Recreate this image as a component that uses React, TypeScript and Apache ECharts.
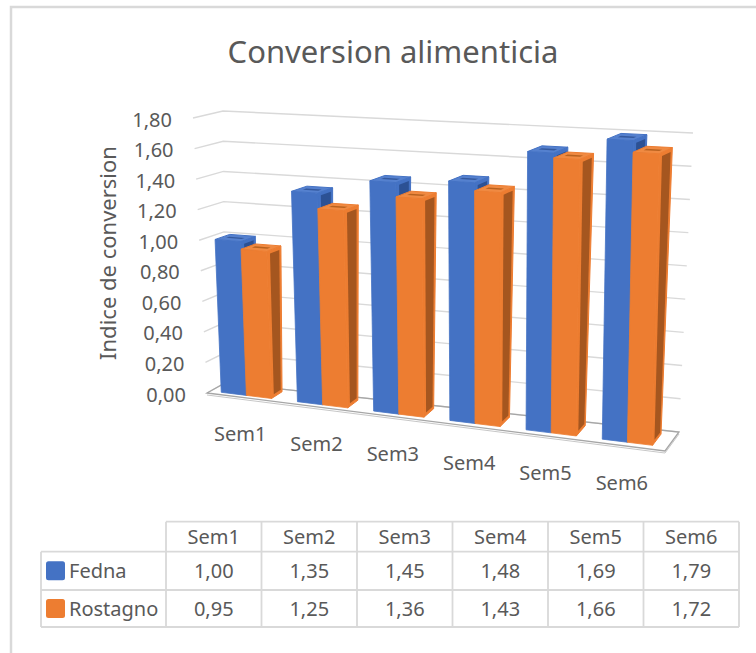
import React, { useEffect, useRef } from 'react';
import * as echarts from 'echarts';

// ---------- data ----------
const categories = ['Sem1', 'Sem2', 'Sem3', 'Sem4', 'Sem5', 'Sem6'];
const seriesNames = ['Fedna', 'Rostagno'];
const fedna = [1.0, 1.35, 1.45, 1.48, 1.69, 1.79];
const rostagno = [0.95, 1.25, 1.36, 1.43, 1.66, 1.72];
const yTicks = [0, 0.2, 0.4, 0.6, 0.8, 1.0, 1.2, 1.4, 1.6, 1.8];
const yMin = 0;
const yMax = 1.8;
const yInterval = 0.2;
const titleText = 'Conversion alimenticia';
const yAxisTitle = 'Indice de conversion';

// ---------- style ----------
const FONT = '"Noto Sans", "Open Sans", sans-serif';
const TEXT = '#595959';
const GRID = '#d9d9d9';
const COLORS = [
  { front: '#4472C4', side: '#2C5194', top: '#5581CF', inner: '#34599E' },
  { front: '#ED7D31', side: '#A5561F', top: '#F08A42', inner: '#B8621F' },
];

const fmt = (v: number) => v.toFixed(2).replace('.', ',');

// perspective frame: screen corners of the plot box (front plane Z=0, back plane Z=1)
const F00 = [207, 393], F01 = [193, 118], F10 = [665, 451], F11 = [671, 143];
const B00 = [225, 383], B01 = [223, 111], B10 = [679, 432], B11 = [693, 133];

const lerp = (a: number[], b: number[], t: number) => [a[0] + (b[0] - a[0]) * t, a[1] + (b[1] - a[1]) * t];
function proj(X: number, Y: number, Z: number) {
  const c00 = lerp(F00, B00, Z), c01 = lerp(F01, B01, Z), c10 = lerp(F10, B10, Z), c11 = lerp(F11, B11, Z);
  const bot = lerp(c00, c10, X), top = lerp(c01, c11, X);
  return lerp(bot, top, Y);
}

function norm(cs: any, api: any, cat: number, val: number) {
  const p = api.coord([cat, val]);
  return [(p[0] - cs.x) / cs.width, (cs.y + cs.height - p[1]) / cs.height];
}

const BAR_Z0 = 0.2, BAR_Z1 = 0.8;
const CLUSTER_START = 0.14, BAR_FRAC = 0.33;

function makeBarRender(s: number) {
  const c = COLORS[s];
  return (params: any, api: any) => {
    const cs = params.coordSys;
    const i = api.value(0), v = api.value(1);
    const [Xc, Yv] = norm(cs, api, i, v);
    const [, Y0] = norm(cs, api, i, 0);
    const band = api.size([1, 0])[0] / cs.width;
    const xa = Xc - band / 2 + band * (CLUSTER_START + BAR_FRAC * s);
    const xb = xa + band * BAR_FRAC;
    const z0 = BAR_Z0, z1 = BAR_Z1;
    const fb0 = proj(xa, Y0, z0), fb1 = proj(xb, Y0, z0), ft0 = proj(xa, Yv, z0), ft1 = proj(xb, Yv, z0);
    const bb1 = proj(xb, Y0, z1), bt0 = proj(xa, Yv, z1), bt1 = proj(xb, Yv, z1);
    const im = 0.2;
    const it = [
      proj(xa + (xb - xa) * im, Yv, z0 + (z1 - z0) * 0.4),
      proj(xb - (xb - xa) * im, Yv, z0 + (z1 - z0) * 0.4),
      proj(xb - (xb - xa) * im, Yv, z0 + (z1 - z0) * 0.62),
      proj(xa + (xb - xa) * im, Yv, z0 + (z1 - z0) * 0.62),
    ];
    // inner dark part of the side face (leaves a lighter bevel rim)
    const sideInner = [
      proj(xb, Y0 + 0.01, z0 + (z1 - z0) * 0.22),
      proj(xb, Y0 + 0.01, z1 - (z1 - z0) * 0.12),
      proj(xb, Yv - 0.012, z1 - (z1 - z0) * 0.12),
      proj(xb, Yv - 0.012, z0 + (z1 - z0) * 0.22),
    ];
    return {
      type: 'group',
      children: [
        { type: 'polygon', shape: { points: [fb1, bb1, bt1, ft1] }, style: { fill: c.front, stroke: c.front, lineWidth: 1 } },
        { type: 'polygon', shape: { points: sideInner }, style: { fill: c.side } },
        { type: 'polygon', shape: { points: [fb0, fb1, ft1, ft0] }, style: { fill: c.front, stroke: c.front, lineWidth: 0.8 } },
        { type: 'polygon', shape: { points: [ft0, ft1, bt1, bt0] }, style: { fill: c.top, stroke: c.front, lineWidth: 1 } },
        { type: 'polygon', shape: { points: it }, style: { fill: c.inner } },
      ],
    };
  };
}

const gridRender = (params: any, api: any) => {
  const cs = params.coordSys;
  const v = api.value(1);
  const [, Y] = norm(cs, api, 0, v);
  const a = proj(0, Y, 0), b = proj(0, Y, 1), c = proj(1, Y, 1);
  return {
    type: 'group',
    children: [
      { type: 'polyline', shape: { points: [a, b, c] }, style: { stroke: GRID, lineWidth: 1.4, fill: null } },
      {
        type: 'text', x: a[0] - 21, y: a[1] + 1,
        style: { text: fmt(v), fill: TEXT, fontSize: 20, fontFamily: FONT, align: 'right', verticalAlign: 'middle' },
      },
    ],
  };
};

const floorRender = (params: any, api: any) => {
  const cs = params.coordSys;
  const [, Y] = norm(cs, api, 0, 0);
  const p = [proj(0, Y, 0), proj(1, Y, 0), proj(1, Y, 1), proj(0, Y, 1)];
  const q = p.map((pt, k) => (k < 3 ? [pt[0], pt[1] + 2] : pt));
  return {
    type: 'group',
    children: [
      { type: 'polyline', shape: { points: [q[0], q[1], q[2]] }, style: { stroke: '#c8c8c8', lineWidth: 1, fill: null } },
      { type: 'polygon', shape: { points: p }, style: { fill: null, stroke: '#a6a6a6', lineWidth: 1.3 } },
    ],
  };
};

const catLabelRender = (params: any, api: any) => {
  const cs = params.coordSys;
  const i = api.value(0);
  const [Xc, Y0] = norm(cs, api, i, 0);
  const p = proj(Xc, Y0, 0);
  return {
    type: 'text', x: p[0] - 5, y: p[1] + 36,
    style: { text: categories[i], fill: TEXT, fontSize: 20, fontFamily: FONT, align: 'center', verticalAlign: 'middle' },
  };
};

// ---------- table (built from data arrays) ----------
function buildTable() {
  const els: any[] = [];
  const left = 41, labelRight = 166, colW = 95.5;
  const right = labelRight + colW * categories.length;
  const rows = [521.7, 551.7, 590, 627];
  const ln = (x1: number, y1: number, x2: number, y2: number) =>
    els.push({ type: 'line', shape: { x1, y1, x2, y2 }, style: { stroke: GRID, lineWidth: 1.8 } });
  ln(labelRight, rows[0], right, rows[0]);
  for (let r = 1; r < rows.length; r++) ln(left, rows[r], right, rows[r]);
  ln(left, rows[1], left, rows[3]);
  for (let k = 0; k <= categories.length; k++) ln(labelRight + colW * k, rows[0], labelRight + colW * k, rows[3]);
  const txt = (text: string, x: number, y: number, align: string) =>
    els.push({ type: 'text', x, y, style: { text, fill: TEXT, fontSize: 20, fontFamily: FONT, align, verticalAlign: 'middle' } });
  categories.forEach((c, k) => txt(c, labelRight + colW * (k + 0.5), (rows[0] + rows[1]) / 2, 'center'));
  const vals = [fedna, rostagno];
  seriesNames.forEach((n, s) => {
    const cy = (rows[s + 1] + rows[s + 2]) / 2;
    els.push({ type: 'rect', shape: { x: 46, y: cy - 9.5, width: 19, height: 19, r: 2.5 }, style: { fill: COLORS[s].front } });
    txt(n, 69, cy, 'left');
    vals[s].forEach((v, k) => txt(fmt(v), labelRight + colW * (k + 0.5), cy, 'center'));
  });
  return els;
}

export default function App() {
  const ref = useRef<HTMLDivElement>(null);
  useEffect(() => {
    if (!ref.current) return;
    const chart = echarts.init(ref.current, undefined, { renderer: 'svg' });
    chart.setOption({
      animation: false,
      backgroundColor: '#ffffff',
      title: {
        text: titleText, left: 388, top: 30, textAlign: 'center',
        textStyle: { fontSize: 31, fontWeight: 'normal', fontFamily: FONT, color: TEXT },
      },
      grid: { left: 207, top: 117, width: 458, height: 276 },
      xAxis: { type: 'category', data: categories, show: false },
      yAxis: { type: 'value', min: yMin, max: yMax, interval: yInterval, show: false },
      series: [
        { type: 'custom', name: 'grid', z: 1, clip: false, silent: true, renderItem: gridRender, data: yTicks.map((t) => [0, t]) },
        { type: 'custom', name: 'floor', z: 2, clip: false, silent: true, renderItem: floorRender, data: [[0, 0]] },
        { type: 'custom', name: seriesNames[0], z: 3, clip: false, renderItem: makeBarRender(0), data: fedna.map((v, i) => [i, v]) },
        { type: 'custom', name: seriesNames[1], z: 3, clip: false, renderItem: makeBarRender(1), data: rostagno.map((v, i) => [i, v]) },
        { type: 'custom', name: 'labels', z: 4, clip: false, silent: true, renderItem: catLabelRender, data: categories.map((_, i) => [i, 0]) },
      ],
      graphic: [
        { type: 'rect', z: 0, shape: { x: 11, y: 7, width: 800, height: 700 }, style: { fill: 'transparent', stroke: '#d9d9d9', lineWidth: 2.5 } },
        {
          type: 'text', x: 107, y: 253, rotation: Math.PI / 2,
          style: { text: yAxisTitle, fill: TEXT, fontSize: 22, fontFamily: FONT, align: 'center', verticalAlign: 'middle' },
        },
        ...buildTable(),
      ],
    });
    return () => chart.dispose();
  }, []);
  return <div ref={ref} style={{ position: 'fixed', left: 0, top: 0, width: 756, height: 653 }} />;
}
